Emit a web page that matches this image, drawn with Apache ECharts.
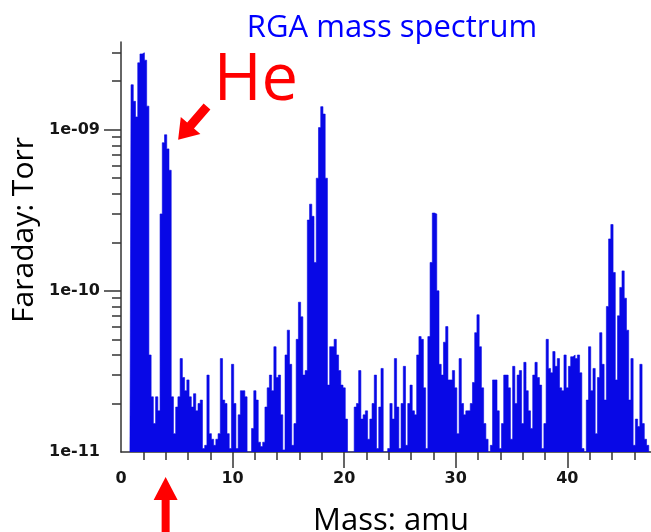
<!DOCTYPE html>
<html>
<head>
<meta charset="utf-8">
<title>RGA mass spectrum</title>
<script src="https://cdn.jsdelivr.net/npm/echarts@6/dist/echarts.min.js"></script>
<style>
  html, body { margin: 0; padding: 0; background: #ffffff; }
  #chart { width: 651px; height: 532px; }
</style>
</head>
<body>
<div id="chart"></div>
<script>
// Residual gas analyser scan (Faraday cup), one channel every 0.2 amu.
const scanStart = 0.8;   // amu of the first channel
const scanStep = 0.2;    // amu between channels
const pressureUnit = 1e-12; // channel readings below are in units of 1e-12 Torr

// 0.8 – 9.8 amu : H, H2, He
const scanLow = [
  10, 1900, 1500, 1200, 2600, 2950, 3000, 2700, 1400, 40,
  22, 15, 22, 18, 300, 830, 930, 760, 560, 22,
  13, 19, 22, 38, 29, 24, 28, 22, 19, 23,
  18, 20, 21, 10.5, 11, 30, 13, 12, 11, 12,
  13, 38, 21, 20, 13, 10.5
];
// 10.0 – 21.4 amu : CH4 / O / OH / H2O
const scanWater = [
  35, 20, 10.5, 17, 24, 24, 22, 10, 10, 14,
  24, 21, 11.5, 10.8, 11.5, 19, 25, 30, 24, 45,
  29, 30, 17, 10.3, 40, 57, 35, 11, 15, 50,
  85, 69, 30, 32, 275, 345, 290, 150, 500, 1030,
  1390, 1250, 500, 26, 45, 45, 50, 40, 32, 26,
  25, 16, 10, 10, 10, 19, 20, 32
];
// 21.6 – 33.8 amu : N2 / CO, O2
const scanAir = [
  16, 17, 18, 12, 16, 20, 30, 10.5, 19, 33,
  10, 10, 10.5, 20, 16, 38, 19, 10.5, 20, 34,
  11, 20, 26, 18, 17, 40, 52, 50, 25, 10.5,
  52, 150, 304, 300, 100, 35, 30, 48, 60, 28,
  28, 32, 25, 13, 38, 20, 17, 18, 18, 20,
  27, 55, 71, 45, 25, 15, 12, 10, 11, 28,
  28, 18
];
// 34.0 – 47.4 amu : Ar, CO2
const scanHigh = [
  10.5, 15, 30, 30, 25, 12, 34, 20, 30, 32,
  15, 36, 24, 18, 14, 30, 36, 29, 26, 10.5,
  15, 50, 33, 31, 42, 34, 38, 25, 24, 40,
  25, 34, 39, 40, 38, 40, 31, 10.5, 10, 21,
  45, 24, 33, 13, 29, 55, 35, 21, 80, 210,
  258, 130, 28, 70, 105, 133, 90, 57, 21, 38,
  11, 16, 14.4, 35, 15, 12, 11, 10
];

// Axis ticks and labels
const xLabelValues = [0, 10, 20, 30, 40];
const xMajorTicks = [10, 20, 30, 40];
const xMinorTicks = [2, 4, 6, 8, 12, 14, 16, 18, 22, 24, 26, 28, 32, 34, 36, 38, 42, 44, 46];
const yLabelValues = [1e-11, 1e-10, 1e-9];
const yMajorTicks = [1e-10, 1e-9];
const yMinorTicks = [
  2e-11, 3e-11, 4e-11, 5e-11, 6e-11, 7e-11, 8e-11, 9e-11,
  2e-10, 3e-10, 4e-10, 5e-10, 6e-10, 7e-10, 8e-10, 9e-10,
  2e-9, 3e-9
];
const heliumMass = 4.0;

const readings = [].concat(scanLow, scanWater, scanAir, scanHigh);
const spectrum = readings.map((r, i) => [
  +(scanStart + i * scanStep).toFixed(1),
  r * pressureUnit
]);

const massMax = 47.5;
const axisColor = '#333333';
const spectrumBlue = '#0808e6';
const tickLabelFont = { fontFamily: 'DejaVu Sans', fontWeight: 'bold', fontSize: 16, color: '#151515' };

function expLabel(v) {
  const e = Math.round(Math.log10(v));
  return '1e' + (e < 0 ? '-' : '+') + String(Math.abs(e)).padStart(2, '0');
}

const chart = echarts.init(document.getElementById('chart'), null, { renderer: 'canvas' });

const option = {
  animation: false,
  backgroundColor: '#ffffff',
  grid: { left: 121, right: 0, top: 42, bottom: 80, containLabel: false, outerBoundsMode: 'none' },
  xAxis: [
    {
      type: 'value', min: 0, max: massMax, position: 'bottom',
      axisLine: { show: true, onZero: false, lineStyle: { color: axisColor, width: 1.5 } },
      axisTick: { show: true, length: 16, customValues: xMajorTicks, lineStyle: { color: axisColor, width: 1.5 } },
      axisLabel: Object.assign({ show: true, customValues: xLabelValues, margin: 19 }, tickLabelFont),
      splitLine: { show: false }
    },
    {
      type: 'value', min: 0, max: massMax, position: 'bottom',
      axisLine: { show: false, onZero: false },
      axisTick: { show: true, length: 8, customValues: xMinorTicks, lineStyle: { color: axisColor, width: 1.5 } },
      axisLabel: { show: false },
      splitLine: { show: false }
    }
  ],
  yAxis: [
    {
      type: 'log', logBase: 10, min: 1e-11, max: 3.5e-9, position: 'left',
      axisLine: { show: true, onZero: false, lineStyle: { color: axisColor, width: 1.5 } },
      axisTick: { show: true, length: 17, customValues: yMajorTicks, lineStyle: { color: axisColor, width: 1.5 } },
      axisLabel: Object.assign({ show: true, customValues: yLabelValues, margin: 21, formatter: expLabel }, tickLabelFont),
      splitLine: { show: false }
    },
    {
      type: 'log', logBase: 10, min: 1e-11, max: 3.5e-9, position: 'left',
      axisLine: { show: false, onZero: false },
      axisTick: { show: true, length: 9, customValues: yMinorTicks, lineStyle: { color: axisColor, width: 1.5 } },
      axisLabel: { show: false },
      splitLine: { show: false }
    }
  ],
  series: [
    {
      // each channel is drawn as a full-width column: a stepped outline filled down to the axis floor
      name: 'Faraday',
      type: 'line',
      xAxisIndex: 0,
      yAxisIndex: 0,
      data: spectrum,
      step: 'middle',
      showSymbol: false,
      symbol: 'none',
      lineStyle: { width: 0.6, color: spectrumBlue },
      areaStyle: { color: spectrumBlue, opacity: 1, origin: 'start' },
      emphasis: { disabled: true },
      z: 1
    }
  ]
};

chart.setOption(option);

// Annotations placed relative to the helium peak
function arrowPoints(tip, angle, headLen, headHalf, shaftHalf, totalLen) {
  const dx = Math.cos(angle), dy = Math.sin(angle);
  const nx = -dy, ny = dx;
  const at = (d, n) => [tip[0] + dx * d + nx * n, tip[1] + dy * d + ny * n];
  return [
    [tip[0], tip[1]],
    at(headLen, headHalf), at(headLen, shaftHalf), at(totalLen, shaftHalf),
    at(totalLen, -shaftHalf), at(headLen, -shaftHalf), at(headLen, -headHalf)
  ];
}

const heIndex = Math.round((heliumMass - scanStart) / scanStep);
const hePeak = chart.convertToPixel({ xAxisIndex: 0, yAxisIndex: 0 }, spectrum[heIndex]);
const axisBase = chart.convertToPixel({ xAxisIndex: 0, yAxisIndex: 0 }, [heliumMass, 1e-11]);
const axisMiddle = chart.convertToPixel({ xAxisIndex: 0, yAxisIndex: 0 }, [massMax / 2, 1e-11]);

chart.setOption({
  graphic: [
    {
      type: 'text',
      style: { text: 'RGA mass spectrum', x: 392, y: 28, align: 'center', verticalAlign: 'middle',
               font: 'normal 31px "Open Sans"', fill: '#0000ff' }
    },
    {
      type: 'text',
      style: { text: 'Faraday: Torr', x: 0, y: 0, align: 'center', verticalAlign: 'middle',
               font: 'normal 30px "Open Sans"', fill: '#000000' },
      x: 24, y: 230, rotation: Math.PI / 2
    },
    {
      type: 'text',
      style: { text: 'Mass: amu', x: axisMiddle[0] + 5, y: 521, align: 'center', verticalAlign: 'middle',
               font: 'normal 31px "Open Sans"', fill: '#000000' }
    },
    {
      type: 'text',
      style: { text: 'He', x: hePeak[0] + 48, y: hePeak[1] - 53, align: 'left', verticalAlign: 'middle',
               font: 'normal 65px "Open Sans"', fill: '#ff0000' }
    },
    {
      type: 'polygon',
      shape: { points: arrowPoints([hePeak[0] + 12.5, hePeak[1] + 5], -0.855, 19, 13, 4.5, 44) },
      style: { fill: '#ff0000' }
    },
    {
      type: 'polygon',
      shape: { points: arrowPoints([axisBase[0], axisBase[1] + 25], Math.PI / 2, 23, 12, 4, 70) },
      style: { fill: '#ff0000' }
    }
  ]
});
</script>
</body>
</html>
